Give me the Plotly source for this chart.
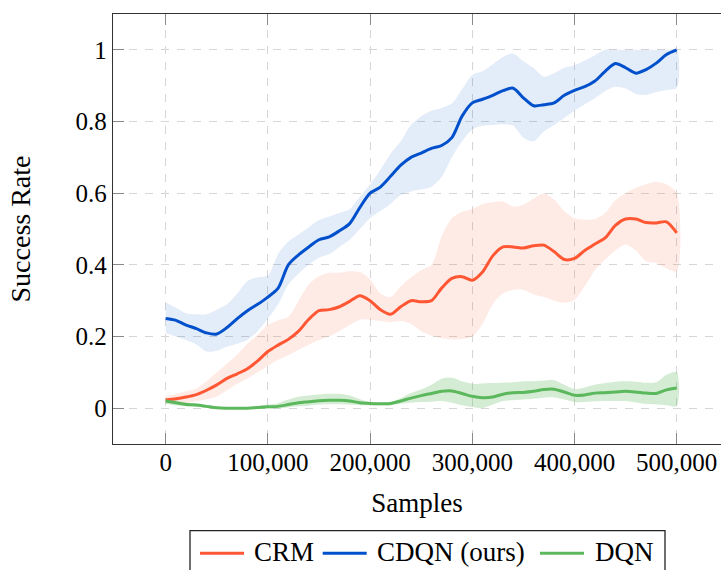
import plotly.graph_objects as go

# Training progress: mean success rate with spread, sampled every 10,000 steps
samples = list(range(0, 500001, 10000))

crm_mean = [0.023, 0.026, 0.031, 0.038, 0.050, 0.065, 0.083, 0.096, 0.110, 0.132,
            0.158, 0.176, 0.192, 0.215, 0.248, 0.272, 0.275, 0.283, 0.298, 0.314,
            0.300, 0.275, 0.262, 0.283, 0.300, 0.297, 0.300, 0.335, 0.362, 0.367,
            0.357, 0.380, 0.425, 0.450, 0.450, 0.447, 0.453, 0.455, 0.437, 0.415,
            0.418, 0.440, 0.458, 0.475, 0.510, 0.528, 0.528, 0.518, 0.517, 0.520,
            0.489]
crm_upper = [0.033, 0.040, 0.047, 0.055, 0.075, 0.100, 0.125, 0.150, 0.180, 0.205,
             0.232, 0.245, 0.255, 0.300, 0.345, 0.368, 0.377, 0.378, 0.382, 0.380,
             0.360, 0.320, 0.310, 0.340, 0.365, 0.385, 0.400, 0.480, 0.530, 0.548,
             0.556, 0.570, 0.575, 0.577, 0.563, 0.568, 0.585, 0.600, 0.582, 0.550,
             0.530, 0.526, 0.528, 0.545, 0.580, 0.600, 0.615, 0.625, 0.632, 0.625,
             0.600]
crm_lower = [0.012, 0.013, 0.015, 0.020, 0.025, 0.032, 0.050, 0.068, 0.083, 0.100,
             0.118, 0.135, 0.148, 0.163, 0.177, 0.190, 0.200, 0.215, 0.232, 0.247,
             0.247, 0.243, 0.240, 0.243, 0.235, 0.215, 0.203, 0.195, 0.192, 0.193,
             0.200, 0.235, 0.290, 0.320, 0.330, 0.330, 0.318, 0.310, 0.300, 0.294,
             0.302, 0.340, 0.385, 0.415, 0.440, 0.457, 0.440, 0.410, 0.405, 0.390,
             0.382]

cdqn_mean = [0.250, 0.245, 0.232, 0.222, 0.210, 0.207, 0.225, 0.250, 0.272, 0.290,
             0.310, 0.335, 0.400, 0.428, 0.450, 0.470, 0.478, 0.495, 0.515, 0.560,
             0.600, 0.617, 0.647, 0.678, 0.700, 0.712, 0.725, 0.733, 0.755, 0.815,
             0.852, 0.862, 0.873, 0.886, 0.893, 0.866, 0.844, 0.847, 0.852, 0.873,
             0.887, 0.897, 0.913, 0.940, 0.962, 0.950, 0.935, 0.945, 0.963, 0.987,
             1.000]
cdqn_upper = [0.295, 0.280, 0.265, 0.262, 0.262, 0.275, 0.290, 0.320, 0.355, 0.365,
              0.370, 0.430, 0.465, 0.485, 0.505, 0.525, 0.535, 0.545, 0.555, 0.590,
              0.625, 0.665, 0.710, 0.745, 0.790, 0.815, 0.830, 0.838, 0.850, 0.890,
              0.930, 0.940, 0.960, 0.980, 0.990, 0.968, 0.949, 0.925, 0.935, 0.950,
              0.957, 0.970, 0.985, 1.000, 1.000, 1.000, 1.000, 1.000, 1.000, 1.000,
              1.000]
cdqn_lower = [0.210, 0.200, 0.190, 0.178, 0.158, 0.160, 0.172, 0.180, 0.190, 0.215,
              0.250, 0.290, 0.345, 0.375, 0.400, 0.420, 0.430, 0.450, 0.470, 0.500,
              0.530, 0.550, 0.570, 0.595, 0.605, 0.610, 0.618, 0.645, 0.700, 0.745,
              0.778, 0.788, 0.790, 0.792, 0.788, 0.755, 0.745, 0.772, 0.790, 0.810,
              0.830, 0.848, 0.865, 0.885, 0.897, 0.892, 0.877, 0.874, 0.882, 0.888,
              0.894]

dqn_mean = [0.020, 0.015, 0.010, 0.009, 0.005, 0.001, 0.000, 0.000, 0.000, 0.002,
            0.004, 0.005, 0.010, 0.015, 0.018, 0.021, 0.022, 0.022, 0.020, 0.015,
            0.013, 0.012, 0.013, 0.020, 0.028, 0.035, 0.041, 0.047, 0.048, 0.041,
            0.033, 0.029, 0.031, 0.039, 0.043, 0.044, 0.047, 0.052, 0.053, 0.045,
            0.036, 0.037, 0.042, 0.043, 0.045, 0.047, 0.045, 0.042, 0.041, 0.051,
            0.056]
dqn_upper = [0.028, 0.022, 0.016, 0.013, 0.008, 0.004, 0.002, 0.002, 0.003, 0.006,
             0.010, 0.014, 0.024, 0.032, 0.035, 0.038, 0.040, 0.040, 0.035, 0.025,
             0.018, 0.016, 0.018, 0.028, 0.042, 0.052, 0.065, 0.082, 0.085, 0.075,
             0.068, 0.069, 0.070, 0.071, 0.072, 0.075, 0.075, 0.077, 0.078, 0.065,
             0.053, 0.058, 0.065, 0.070, 0.074, 0.075, 0.074, 0.071, 0.072, 0.093,
             0.100]
dqn_lower = [0.012, 0.008, 0.005, 0.004, 0.001, -0.002, -0.002, -0.002, -0.002, -0.001,
             0.000, 0.000, 0.002, 0.005, 0.007, 0.010, 0.011, 0.011, 0.010, 0.008,
             0.008, 0.008, 0.008, 0.012, 0.015, 0.017, 0.018, 0.020, 0.015, 0.008,
             0.003, 0.000, 0.010, 0.020, 0.022, 0.024, 0.026, 0.029, 0.030, 0.024,
             0.017, 0.017, 0.019, 0.020, 0.020, 0.020, 0.016, 0.012, 0.010, 0.008,
             0.006]

series_names = ["CRM", "CDQN (ours)", "DQN"]
line_colors = ["#ff5733", "#0050cc", "#5cb85c"]
band_colors = ["rgba(255,87,51,0.12)", "rgba(0,80,204,0.11)", "rgba(92,184,92,0.27)"]

x_ticks = [0, 100000, 200000, 300000, 400000, 500000]
x_tick_labels = ["0", "100,000", "200,000", "300,000", "400,000", "500,000"]
y_ticks = [0, 0.2, 0.4, 0.6, 0.8, 1.0]
y_tick_labels = ["0", "0.2", "0.4", "0.6", "0.8", "1"]

W, H = 721, 570
ML, MR, MT, MB = 113, 0, 14, 126
FONT = "Liberation Serif"

means = [crm_mean, cdqn_mean, dqn_mean]
uppers = [crm_upper, cdqn_upper, dqn_upper]
lowers = [crm_lower, cdqn_lower, dqn_lower]

fig = go.Figure()

# shaded spread bands (behind all lines)
for up, lo, bc in zip(uppers, lowers, band_colors):
    fig.add_trace(go.Scatter(
        x=samples + samples[::-1], y=up + lo[::-1],
        fill="toself", fillcolor=bc, mode="lines",
        line=dict(width=0, shape="spline", smoothing=0.8),
        hoverinfo="skip", showlegend=False))

# mean curves
for name, m, lc in zip(series_names, means, line_colors):
    fig.add_trace(go.Scatter(
        x=samples, y=m, name=name, mode="lines",
        line=dict(color=lc, width=3, shape="spline", smoothing=0.8),
        showlegend=False))

grid = dict(showgrid=True, gridcolor="#d6d6d6", gridwidth=1, griddash="8px,8px",
            zeroline=False)

fig.update_xaxes(range=[-51566, 543346], tickvals=x_ticks, ticktext=x_tick_labels,
                 ticks="inside", ticklen=11, tickwidth=1, tickcolor="#8a8a8a",
                 showline=True, linecolor="#333333", linewidth=1.3, mirror="ticks",
                 tickfont=dict(size=25), ticklabelstandoff=-4,
                 title=dict(text="Samples", font=dict(size=27), standoff=17),
                 **grid)
fig.update_yaxes(range=[-0.1, 1.1], tickvals=y_ticks, ticktext=y_tick_labels,
                 ticks="inside", ticklen=11, tickwidth=1, tickcolor="#8a8a8a",
                 showline=True, linecolor="#333333", linewidth=1.3, mirror=False,
                 tickfont=dict(size=25),
                 title=dict(text="Success Rate", font=dict(size=28), standoff=36),
                 **grid)

# right-hand tick marks (box edge lies just beyond the canvas)
fig.update_layout(yaxis2=dict(overlaying="y", side="right", anchor="x",
                              range=[-0.1, 1.1], tickvals=y_ticks,
                              ticks="inside", ticklen=5, tickwidth=1,
                              tickcolor="#8a8a8a", showticklabels=False,
                              showgrid=False, showline=False, zeroline=False))


def px_x(p):
    return (p - ML) / (W - ML - MR)


def px_y(p):
    return (H - MB - p) / (H - MT - MB)


# legend box below the axes
shapes = [dict(type="rect", xref="paper", yref="paper",
               x0=px_x(190), x1=px_x(665), y0=px_y(530.7), y1=px_y(590),
               line=dict(color="#222222", width=1.3), fillcolor="white", layer="above")]
annotations = []
legend_lines = [(200, 244), (322.7, 366.7), (540, 584)]
legend_text_x = [251.7, 375, 592.7]
for (a, b), tx, name, lc in zip(legend_lines, legend_text_x, series_names, line_colors):
    shapes.append(dict(type="line", xref="paper", yref="paper",
                       x0=px_x(a), x1=px_x(b), y0=px_y(553.3), y1=px_y(553.3),
                       line=dict(color=lc, width=3), layer="above"))
    annotations.append(dict(text=name, xref="paper", yref="paper",
                            x=px_x(tx), y=px_y(552), xanchor="left", yanchor="middle",
                            showarrow=False, font=dict(size=27, family=FONT, color="black")))

fig.update_layout(
    width=W, height=H,
    margin=dict(l=ML, r=MR, t=MT, b=MB, pad=0, autoexpand=False),
    plot_bgcolor="white", paper_bgcolor="white",
    font=dict(family=FONT, size=25, color="black"),
    showlegend=False,
    shapes=shapes, annotations=annotations,
)

fig.write_html("out.html")
